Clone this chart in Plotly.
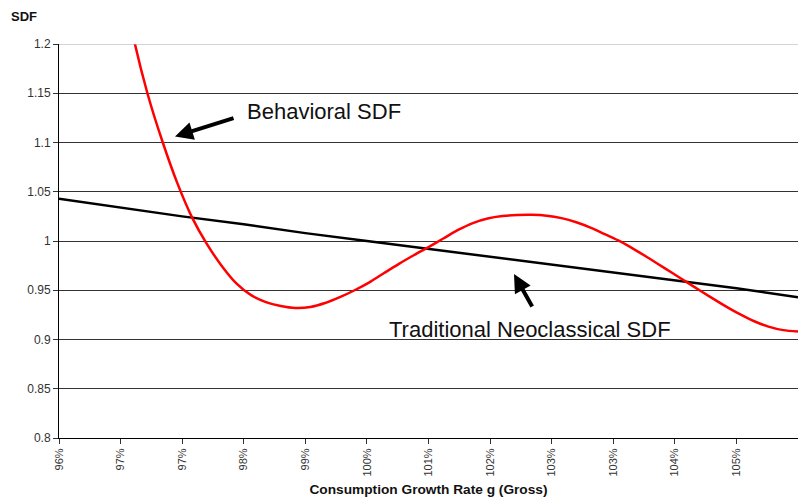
import plotly.graph_objects as go

# Consumption growth rate (gross) and SDF values
g_neo = [0.96, 0.96833, 0.97667, 0.985, 0.99333, 1.00167, 1.01, 1.01833,
         1.02667, 1.035, 1.04333, 1.05167, 1.06]
sdf_neo = [1.043, 1.034, 1.025, 1.017, 1.008, 1.000, 0.992, 0.984,
           0.976, 0.968, 0.960, 0.952, 0.943]

g_beh = [0.968, 0.970, 0.972, 0.974, 0.976, 0.978, 0.980, 0.982, 0.984,
         0.986, 0.988, 0.990, 0.992, 0.994, 0.996, 0.998, 1.000, 1.002,
         1.004, 1.006, 1.008, 1.010, 1.012, 1.014, 1.016, 1.018, 1.020,
         1.022, 1.024, 1.026, 1.028, 1.030, 1.032, 1.034, 1.036, 1.038,
         1.040, 1.042, 1.044, 1.046, 1.048, 1.050, 1.052, 1.054, 1.056,
         1.058, 1.060]
sdf_beh = [1.285, 1.209, 1.149, 1.101, 1.059, 1.024, 0.997, 0.975, 0.957,
           0.945, 0.938, 0.934, 0.932, 0.933, 0.937, 0.943, 0.950, 0.958,
           0.9675, 0.9768, 0.9855, 0.9938, 1.0025, 1.0112, 1.0182, 1.0228, 1.0253,
           1.0264, 1.0266, 1.0257, 1.0232, 1.019, 1.0133, 1.0064, 0.9993, 0.9908,
           0.9817, 0.9722, 0.9627, 0.9532, 0.9438, 0.9347, 0.9262, 0.9188, 0.9131,
           0.9095, 0.908]

x_tick_vals = [0.96, 0.96833, 0.97667, 0.985, 0.99333, 1.00167, 1.01,
               1.01833, 1.02667, 1.035, 1.04333, 1.05167]
x_tick_text = ["96%", "97%", "97%", "98%", "99%", "100%", "101%", "102%",
               "103%", "103%", "104%", "105%"]
y_tick_vals = [0.8, 0.85, 0.9, 0.95, 1.0, 1.05, 1.1, 1.15, 1.2]

FONT = "Liberation Sans, Arial, sans-serif"

fig = go.Figure()
fig.add_trace(go.Scatter(x=g_neo, y=sdf_neo, mode="lines",
                         line=dict(color="black", width=2.5),
                         showlegend=False, hoverinfo="skip"))
fig.add_trace(go.Scatter(x=g_beh, y=sdf_beh, mode="lines",
                         line=dict(color="#ff0000", width=2.5, shape="spline", smoothing=0.8),
                         showlegend=False, hoverinfo="skip"))

fig.update_layout(
    width=798, height=499,
    margin=dict(l=59, r=0, t=44, b=61),
    paper_bgcolor="white", plot_bgcolor="white",
    font=dict(family=FONT, color="#222"),
    xaxis=dict(range=[0.96, 1.06], tickvals=x_tick_vals, ticktext=x_tick_text,
               tickangle=-90, tickfont=dict(size=11, color="#333"),
               showgrid=False, zeroline=False, showline=True, linecolor="black",
               linewidth=1, ticks="outside", ticklen=5, tickcolor="#333",
               title=dict(text="<b>Consumption Growth Rate g (Gross)</b>",
                          font=dict(size=13.7, color="#111"), standoff=8)),
    yaxis=dict(range=[0.8, 1.2], tickvals=y_tick_vals,
               tickfont=dict(size=12, color="#333"),
               showgrid=True, gridcolor="#333", gridwidth=1, zeroline=False,
               showline=True, linecolor="black", linewidth=1,
               ticks="outside", ticklen=5, tickcolor="#333"),
)

# lighter top border line
fig.add_shape(type="line", xref="paper", yref="y", x0=0, x1=1, y0=1.2, y1=1.2,
              line=dict(color="#aaaaaa", width=1), layer="above")

fig.add_annotation(text="<b>SDF</b>", xref="paper", yref="paper",
                   x=-0.068, y=1.07, xanchor="left", yanchor="middle",
                   showarrow=False, font=dict(size=13, color="#111"))

# Behavioral SDF label and arrow
fig.add_annotation(text="Behavioral SDF", x=0.99586, y=1.1313, showarrow=False,
                   font=dict(size=22, color="#111"))
fig.add_annotation(text="", x=0.9757, y=1.106, ax=60, ay=-19, showarrow=True,
                   arrowhead=2, arrowsize=0.9, arrowwidth=4, arrowcolor="black")

# Neoclassical SDF label and arrow
fig.add_annotation(text="Traditional Neoclassical SDF", x=1.02374, y=0.9106,
                   showarrow=False, font=dict(size=22, color="#111"))
fig.add_annotation(text="", x=1.02157, y=0.9664, ax=19, ay=34, showarrow=True,
                   arrowhead=2, arrowsize=0.9, arrowwidth=4, arrowcolor="black")

fig.write_html("out.html", config={"displayModeBar": False},
               post_script="document.body.style.margin='0';")
